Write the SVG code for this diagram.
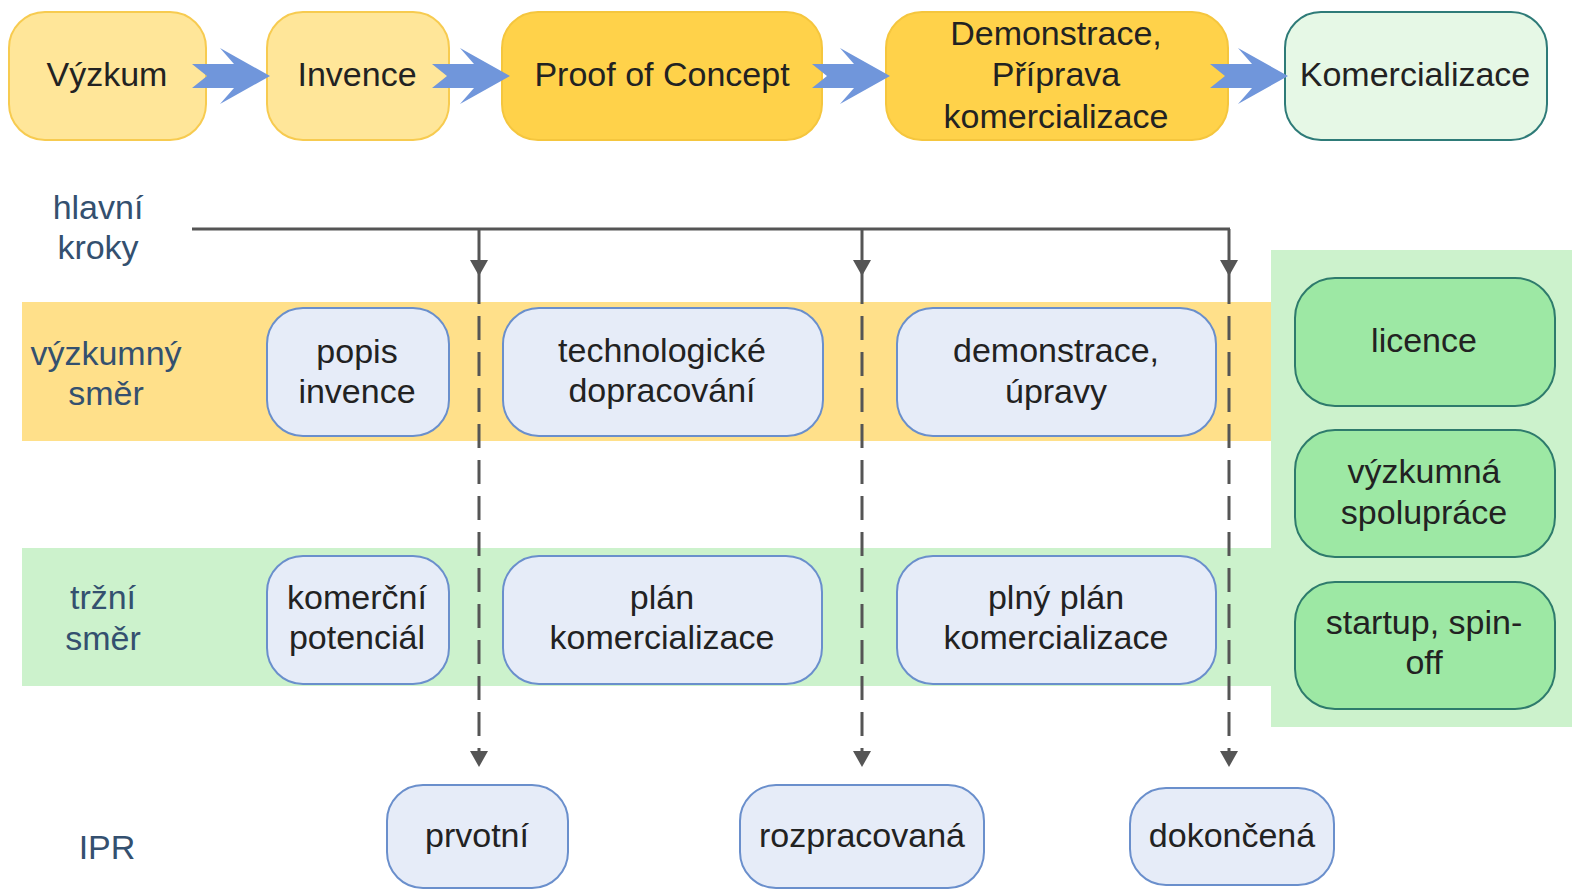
<svg xmlns="http://www.w3.org/2000/svg" width="1572" height="889" viewBox="0 0 1572 889">
<style>
text{font-family:"Liberation Sans",Arial,sans-serif;font-size:34px;text-anchor:middle;dominant-baseline:central;fill:#222}
.lbl{fill:#34506f}
.ylt{fill:#FFE699;stroke:#F7CB50;stroke-width:2}
.ydk{fill:#FFD24A;stroke:#F5C63E;stroke-width:2}
.gtop{fill:#E6F8E6;stroke:#2E7B78;stroke-width:2}
.blue{fill:#E6ECF8;stroke:#6A8FCC;stroke-width:2}
.grn{fill:#9DE8A4;stroke:#2E7B6C;stroke-width:2}
.ln{stroke:#555;stroke-width:3;fill:none}
.dash{stroke:#555;stroke-width:3;fill:none;stroke-dasharray:24 12}
.tri{fill:#555}
.barrow{fill:#7096DB}
</style>
<defs>
<polygon id="bigArrow" points="0,-12 42,-12 28,-28 78,0 28,28 42,12 0,12 15,0"/>
<polygon id="tri" points="-9,0 9,0 0,16"/>
</defs>

<!-- bands -->
<rect x="22" y="302" width="1251" height="139" fill="#FFE08A"/>
<rect x="22" y="548" width="1251" height="138" fill="#CCF2CC"/>
<rect x="1271" y="250" width="301" height="477" fill="#CCF2CC"/>

<!-- lane labels -->
<text class="lbl" x="98" y="207">hlavní</text>
<text class="lbl" x="98" y="247">kroky</text>
<text class="lbl" x="106" y="353">výzkumný</text>
<text class="lbl" x="106" y="393">směr</text>
<text class="lbl" x="103" y="597">tržní</text>
<text class="lbl" x="103" y="638">směr</text>
<text class="lbl" x="107" y="847">IPR</text>

<!-- top process nodes -->
<g id="vyzkum"><rect class="ylt" x="9" y="12" width="197" height="128" rx="36"/><text x="107" y="74">Výzkum</text></g>
<g id="invence"><rect class="ylt" x="267" y="12" width="182" height="128" rx="36"/><text x="357" y="74">Invence</text></g>
<g id="poc"><rect class="ydk" x="502" y="12" width="320" height="128" rx="36"/><text x="662" y="74">Proof of Concept</text></g>
<g id="demonstrace"><rect class="ydk" x="886" y="12" width="342" height="128" rx="36"/><text x="1056" y="33">Demonstrace,</text><text x="1056" y="74">Příprava</text><text x="1056" y="116">komercializace</text></g>
<g id="komercializace"><rect class="gtop" x="1285" y="12" width="262" height="128" rx="36"/><text x="1415" y="74">Komercializace</text></g>

<!-- research lane -->
<g id="popis"><rect class="blue" x="267" y="308" width="182" height="128" rx="36"/><text x="357" y="351">popis</text><text x="357" y="391">invence</text></g>
<g id="technologicke"><rect class="blue" x="503" y="308" width="320" height="128" rx="36"/><text x="662" y="350">technologické</text><text x="662" y="390">dopracování</text></g>
<g id="demonstrace2"><rect class="blue" x="897" y="308" width="319" height="128" rx="36"/><text x="1056" y="350">demonstrace,</text><text x="1056" y="391">úpravy</text></g>

<!-- market lane -->
<g id="komercni"><rect class="blue" x="267" y="556" width="182" height="128" rx="36"/><text x="357" y="597">komerční</text><text x="357" y="637">potenciál</text></g>
<g id="plan"><rect class="blue" x="503" y="556" width="319" height="128" rx="36"/><text x="662" y="597">plán</text><text x="662" y="637">komercializace</text></g>
<g id="plnyplan"><rect class="blue" x="897" y="556" width="319" height="128" rx="36"/><text x="1056" y="597">plný plán</text><text x="1056" y="637">komercializace</text></g>

<!-- outcomes -->
<g id="licence"><rect class="grn" x="1295" y="278" width="260" height="128" rx="40"/><text x="1424" y="340">licence</text></g>
<g id="spoluprace"><rect class="grn" x="1295" y="430" width="260" height="127" rx="40"/><text x="1424" y="471">výzkumná</text><text x="1424" y="512">spolupráce</text></g>
<g id="startup"><rect class="grn" x="1295" y="582" width="260" height="127" rx="40"/><text x="1424" y="622">startup, spin-</text><text x="1424" y="662">off</text></g>

<!-- IPR -->
<g id="prvotni"><rect class="blue" x="387" y="785" width="181" height="103" rx="36"/><text x="477" y="835">prvotní</text></g>
<g id="rozpracovana"><rect class="blue" x="740" y="785" width="244" height="103" rx="36"/><text x="862" y="835">rozpracovaná</text></g>
<g id="dokoncena"><rect class="blue" x="1130" y="788" width="204" height="97" rx="36"/><text x="1232" y="835">dokončená</text></g>

<!-- connectors -->
<g id="connectors">
<use href="#bigArrow" class="barrow" x="192" y="76"/>
<use href="#bigArrow" class="barrow" x="432" y="76"/>
<use href="#bigArrow" class="barrow" x="812" y="76"/>
<use href="#bigArrow" class="barrow" x="1210" y="76"/>

<line class="ln" x1="192" y1="229" x2="1230" y2="229"/>

<line class="ln" x1="479" y1="229" x2="479" y2="304"/>
<line class="dash" x1="479" y1="316" x2="479" y2="756"/>
<use href="#tri" class="tri" x="479" y="260"/>
<use href="#tri" class="tri" x="479" y="751"/>

<line class="ln" x1="862" y1="229" x2="862" y2="304"/>
<line class="dash" x1="862" y1="316" x2="862" y2="756"/>
<use href="#tri" class="tri" x="862" y="260"/>
<use href="#tri" class="tri" x="862" y="751"/>

<line class="ln" x1="1229" y1="229" x2="1229" y2="304"/>
<line class="dash" x1="1229" y1="316" x2="1229" y2="756"/>
<use href="#tri" class="tri" x="1229" y="260"/>
<use href="#tri" class="tri" x="1229" y="751"/>
</g>
</svg>
